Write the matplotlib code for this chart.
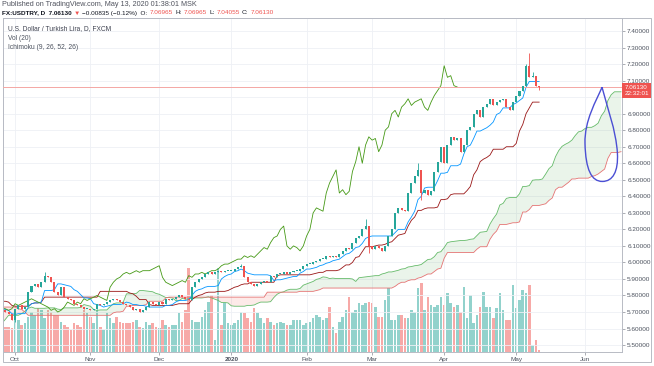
"""USD/TRY daily candles with volume and Ichimoku cloud, TradingView look."""

import matplotlib.pyplot as plt
import numpy as np
import pandas as pd
from matplotlib.patches import PathPatch, Rectangle
from matplotlib.path import Path

plt.rcParams["font.family"] = ["Liberation Sans", "DejaVu Sans"]

# daily closes; Jun-Sep 25 2019 are only the Ichimoku warm-up (off screen)
CLOSE_JUN_2019 = [5.82, 5.84, 5.86, 5.89, 5.93, 5.91, 5.90, 5.87, 5.82, 5.78,
                  5.75, 5.76, 5.78, 5.78, 5.81]
CLOSE_JUL_2019 = [5.70, 5.65, 5.63, 5.63, 5.70, 5.76, 5.78, 5.75, 5.70, 5.73,
                  5.73, 5.72, 5.68, 5.64, 5.65, 5.66, 5.68, 5.66, 5.66, 5.62,
                  5.59, 5.58, 5.57]
CLOSE_AUG_2019 = [5.55, 5.53, 5.57, 5.55, 5.55, 5.54, 5.55, 5.60, 5.62, 5.63,
                  5.60, 5.59, 5.63, 5.70, 5.73, 5.77, 5.80, 5.78, 5.80, 5.79,
                  5.82, 5.83]
CLOSE_SEP_2019 = [5.80, 5.76, 5.70, 5.73, 5.72, 5.74, 5.78, 5.72, 5.75, 5.70,
                  5.72, 5.71, 5.73, 5.70, 5.70, 5.72, 5.71, 5.71,
                  5.70, 5.69, 5.65]
CLOSE_OCT_2019 = [5.72, 5.74, 5.72, 5.73, 5.82, 5.86, 5.87, 5.85, 5.88, 5.92,
                  5.91, 5.88, 5.82, 5.80, 5.85, 5.79, 5.78, 5.77, 5.75, 5.74,
                  5.73, 5.72, 5.72]
CLOSE_NOV_2019 = [5.71, 5.72, 5.75, 5.74, 5.75, 5.76, 5.77, 5.78, 5.77, 5.76,
                  5.75, 5.74, 5.73, 5.71, 5.72, 5.70, 5.71, 5.73, 5.76, 5.75,
                  5.74]
CLOSE_DEC_2019 = [5.76, 5.75, 5.78, 5.77, 5.78, 5.79, 5.80, 5.79, 5.78, 5.77,
                  5.85, 5.88, 5.90, 5.91, 5.93, 5.94, 5.93, 5.94, 5.95, 5.94,
                  5.95, 5.95]
CLOSE_JAN_2020 = [5.95, 5.96, 5.97, 5.98, 5.91, 5.88, 5.87, 5.86, 5.87, 5.88,
                  5.89, 5.88, 5.92, 5.91, 5.93, 5.93, 5.94, 5.93, 5.94, 5.95,
                  5.95, 5.96, 5.98]
CLOSE_FEB_2020 = [5.99, 5.99, 6.00, 6.01, 6.02, 6.02, 6.04, 6.03, 6.04, 6.03,
                  6.05, 6.07, 6.09, 6.08, 6.12, 6.15, 6.16, 6.20, 6.22, 6.10]
CLOSE_MAR_2020 = [6.08, 6.10, 6.09, 6.07, 6.10, 6.16, 6.20, 6.30, 6.33, 6.32,
                  6.31, 6.42, 6.48, 6.52, 6.56, 6.42, 6.44, 6.41, 6.43, 6.55,
                  6.61, 6.70]
CLOSE_APR_2020 = [6.60, 6.71, 6.76, 6.74, 6.75, 6.67, 6.71, 6.80, 6.82, 6.90,
                  6.92, 6.88, 6.94, 6.96, 6.99, 6.95, 6.97, 6.98, 6.99, 6.94,
                  6.92, 6.97]
CLOSE_MAY_2020 = [7.01, 7.04, 7.07, 7.19, 7.12, 7.13, 7.06965, 7.06130]

FIRST_DAY = "2019-06-10"
FIRST_SHOWN = "2019-09-26"
LAST_DAY = "2020-05-12"
LAST_OPEN = 7.06965

WICK_HIGH = {"2019-10-14": 5.94, "2020-01-06": 5.99, "2020-02-27": 6.26,
             "2020-03-20": 6.60, "2020-05-06": 7.20, "2020-05-07": 7.27,
             "2020-05-08": 7.15}
WICK_LOW = {"2019-10-01": 5.64, "2020-02-28": 6.06, "2020-03-23": 6.38,
            "2020-05-12": 7.04055}

# tick volume, shown bars only (Sep 26 2019 .. May 12 2020)
VOLUME = [25, 25, 24, 34, 32, 27, 29, 35, 40, 37, 44, 42, 34, 42, 40, 37, 37, 30, 27, 25,
          22, 29, 27, 25, 42, 39, 35, 29, 42, 25, 22, 39, 34, 29, 35, 30, 29, 29, 29, 30,
          32, 25, 24, 30, 27, 29, 25, 24, 32, 27, 25, 27, 27, 39, 30, 42, 84, 32, 30, 30,
          35, 42, 50, 57, 12, 84, 27, 49, 29, 27, 29, 32, 40, 39, 34, 30, 44, 39, 34, 29,
          34, 30, 27, 29, 30, 29, 27, 27, 32, 32, 32, 27, 29, 30, 34, 37,
          35, 32, 34, 45, 25, 19, 30, 35, 42, 55, 40, 42, 49, 47, 49, 50, 49, 45, 35, 35,
          52, 64, 32, 32, 37, 37, 34, 34, 42, 40, 64, 69, 42, 55, 47, 45, 47, 55, 47, 59,
          49, 45, 47, 40, 65, 34, 57, 29, 37, 45, 60, 45, 45, 34, 44, 59, 42, 32, 32, 67,
          44, 52, 62, 59, 67, 7, 12, 2]

MONTH_DAYS = ["2019-10-01", "2019-11-01", "2019-12-02", "2020-01-01", "2020-02-03",
              "2020-03-02", "2020-04-01", "2020-05-01", "2020-06-01"]
MONTH_LABELS = ["Oct", "Nov", "Dec", "2020", "Feb", "Mar", "Apr", "May", "Jun"]
PRICE_TICKS = [5.5, 5.6, 5.7, 5.8, 5.9, 6.0, 6.1, 6.2, 6.3, 6.4,
               6.5, 6.6, 6.7, 6.8, 6.9, 7.0, 7.1, 7.2, 7.3, 7.4]
HIDDEN_TICK = 7.0  # sits under the last-price label

TENKAN, KIJUN, SENKOU, SHIFT = 9, 26, 52, 26

# hand-drawn mark on the cloud: (bars after Sep 26 2019, price) Bezier points
DRAWING = [(182.2, 7.06), (180.5, 6.98), (176.8, 6.86), (177.0, 6.72),
           (177.2, 6.56), (179.0, 6.49), (182.3, 6.49),
           (185.5, 6.49), (187.2, 6.55), (186.9, 6.66),
           (186.5, 6.80), (183.6, 6.95), (182.2, 7.06)]

UP, DOWN = "#26a69a", "#ef5350"
VOL_UP, VOL_DOWN = "#92d2cc", "#f7a9a7"
TEXT = "#4c525e"
W, H = 654, 366


def _px_rect(x0, y0, x1, y1):
    """Figure rectangle from pixel corners (origin top left)."""

    return [x0 / W, 1 - y1 / H, (x1 - x0) / W, (y1 - y0) / H]


def _midpoint(high, low, n):
    return (high.rolling(n).max() + low.rolling(n).min()) / 2


def _chain_text(fig, x, y, pieces, size):
    """Write coloured pieces one after another on a single line."""

    renderer = fig.canvas.get_renderer()
    for text, color, weight in pieces:
        t = fig.text(x, y, text, color=color, weight=weight, fontsize=size, va="center")
        x = t.get_window_extent(renderer).x1 / fig.bbox.width + 2.2 / W


closes = np.array(CLOSE_JUN_2019 + CLOSE_JUL_2019 + CLOSE_AUG_2019 + CLOSE_SEP_2019
                  + CLOSE_OCT_2019 + CLOSE_NOV_2019 + CLOSE_DEC_2019 + CLOSE_JAN_2020
                  + CLOSE_FEB_2020 + CLOSE_MAR_2020 + CLOSE_APR_2020 + CLOSE_MAY_2020)
dates = pd.bdate_range(FIRST_DAY, LAST_DAY)
assert len(dates) == len(closes)
opens = np.r_[closes[0], closes[:-1]]
opens[-1] = LAST_OPEN
highs = np.maximum(opens, closes)
lows = np.minimum(opens, closes)
for day, value in WICK_HIGH.items():
    highs[dates.get_loc(pd.Timestamp(day))] = value
for day, value in WICK_LOW.items():
    lows[dates.get_loc(pd.Timestamp(day))] = value

x = np.arange(len(closes))
start = dates.get_loc(pd.Timestamp(FIRST_SHOWN))
shown = x >= start
assert shown.sum() == len(VOLUME)

hi, lo = pd.Series(highs), pd.Series(lows)
tenkan = _midpoint(hi, lo, TENKAN)
kijun = _midpoint(hi, lo, KIJUN)
span_a = ((tenkan + kijun) / 2).to_numpy()
span_b = _midpoint(hi, lo, SENKOU).to_numpy()
lead_x = x + SHIFT - 1

fig = plt.figure(figsize=(W / 100, H / 100), dpi=100)
ax = fig.add_axes(_px_rect(3, 18, 622, 352))
ax_vol = ax.twinx()
ax.set_zorder(ax_vol.get_zorder() + 1)
ax.patch.set_visible(False)
ax_vol.set_axis_off()

up = closes >= opens
ax_vol.bar(x[shown], VOLUME, width=0.78, color=np.where(up, VOL_UP, VOL_DOWN)[shown],
           linewidth=0)
ax_vol.set_ylim(0, 334)

# cloud
ax.fill_between(lead_x, span_a, span_b, where=span_a >= span_b, interpolate=True,
                color="#43a047", alpha=0.11, linewidth=0)
ax.fill_between(lead_x, span_a, span_b, where=span_a < span_b, interpolate=True,
                color="#f44336", alpha=0.11, linewidth=0)
ax.plot(lead_x, span_a, color="#66bb6a", linewidth=0.6)
ax.plot(lead_x, span_b, color="#e57373", linewidth=0.6)
ax.plot(x, kijun, color="#991515", linewidth=0.6)
ax.plot(x, tenkan, color="#0496ff", linewidth=0.6)
ax.plot(x - SHIFT + 1, closes, color="#459915", linewidth=0.6)

# candles
colors = np.where(up, UP, DOWN)
ax.vlines(x[shown], lows[shown], highs[shown], colors=colors[shown], linewidth=0.6, zorder=4)
body = np.maximum(np.abs(closes - opens), 0.004)
ax.bar(x[shown], body[shown], bottom=np.minimum(opens, closes)[shown], width=0.62,
       color=colors[shown], linewidth=0, zorder=5)

ax.axhline(closes[-1], color="#f4a7a4", linewidth=0.7, zorder=3)

verts = [(start + px, py) for px, py in DRAWING]
codes = [Path.MOVETO] + [Path.CURVE4] * (len(verts) - 1)
ax.add_patch(PathPatch(Path(verts, codes), fill=False, edgecolor="#4b4fd4",
                       linewidth=1.0, zorder=6))

# axes
ext_days = pd.bdate_range(FIRST_DAY, "2020-06-30")
month_x = [ext_days.get_loc(pd.Timestamp(d)) for d in MONTH_DAYS]
ax.set_xlim(start - 0.7, start + 188.3)
ax.set_ylim(5.458, 7.479)
ax.set_xticks(month_x)
ax.set_xticklabels(MONTH_LABELS)
for lab in ax.get_xticklabels():
    if lab.get_text() == "2020":
        lab.set_fontweight("bold")
ax.set_yticks(PRICE_TICKS)
ax.set_yticklabels(["" if p == HIDDEN_TICK else f"{p:.5f}" for p in PRICE_TICKS])
ax.yaxis.tick_right()
ax.tick_params(axis="both", labelsize=4.6, colors="#8a8d96", labelcolor=TEXT,
               length=2.2, width=0.5, pad=1.5)
ax.grid(True, color="#eef0f5", linewidth=0.6)
ax.set_axisbelow(True)
for spine in ax.spines.values():
    spine.set_color("#b8bbc4")
    spine.set_linewidth(0.7)

ax.annotate(f"{closes[-1]:.5f}\n22:32:01", xy=(1, closes[-1]),
            xycoords=("axes fraction", "data"), xytext=(1.6, 1.6),
            textcoords="offset points", ha="left", va="top", fontsize=4.5,
            color="white", linespacing=1.3, annotation_clip=False,
            bbox=dict(boxstyle="square,pad=0.3", fc=DOWN, ec="none"))

ax.text(0.008, 0.967, "U.S. Dollar / Turkish Lira, D, FXCM", transform=ax.transAxes,
        fontsize=4.8, color="#3e4250", va="center")
ax.text(0.008, 0.940, "Vol (20)", transform=ax.transAxes, fontsize=4.8, color=TEXT,
        va="center")
ax.text(0.008, 0.913, "Ichimoku (9, 26, 52, 26)", transform=ax.transAxes, fontsize=4.8,
        color=TEXT, va="center")

fig.add_artist(Rectangle((3 / W, 1 - 362 / H), 648 / W, 344 / H, transform=fig.transFigure,
                         fill=False, edgecolor="#b8bbc4", linewidth=0.7))

fig.text(2 / W, 1 - 4.5 / H, "Published on TradingView.com, May 13, 2020 01:38:01 MSK",
         fontsize=5.2, color="#50535e", va="center")
_chain_text(fig, 2 / W, 1 - 13 / H, [
    ("FX:USDTRY, D  7.06130", "#131722", "bold"),
    ("\u25bc", DOWN, "normal"),
    ("\u22120.00835 (\u22120.12%)  O:", "#131722", "normal"),
    ("7.06965", DOWN, "normal"),
    ("H:", "#131722", "normal"),
    ("7.06965", DOWN, "normal"),
    ("L:", "#131722", "normal"),
    ("7.04055", DOWN, "normal"),
    ("C:", "#131722", "normal"),
    ("7.06130", DOWN, "normal"),
], 4.6)

fig.savefig("out.png", dpi=100)
plt.close(fig)
